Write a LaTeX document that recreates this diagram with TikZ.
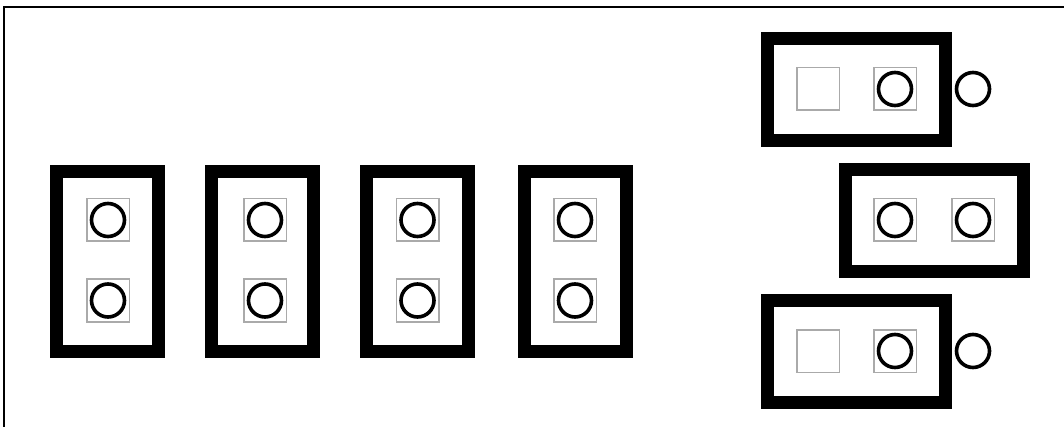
\documentclass[tikz,border=0pt]{standalone}
\begin{document}
\begin{tikzpicture}[x=1pt,y=-1pt,
  holder/.style={draw=black,line width=13pt,rectangle,inner sep=0pt,outer sep=0pt,fill=white},
  vholder/.style={holder,minimum width=102pt,minimum height=180pt},
  hholder/.style={holder,minimum width=178pt,minimum height=102pt},
  pad/.style={draw={rgb,255:red,170;green,170;blue,170},line width=1.5pt,rectangle,inner sep=0pt,outer sep=0pt,minimum size=42.5pt},
  pin/.style={draw=black,line width=3.6pt,circle,inner sep=0pt,outer sep=0pt,minimum size=33pt}]
\useasboundingbox (0,0) rectangle (1064,427);
\fill[white] (0,0) rectangle (1064,427);
\coordinate (fa) at (4.3,427);
\coordinate (fb) at (4.3,7.3);
\coordinate (fc) at (1064,7.3);
\draw[line width=2pt] (fa) -- (fb) -- (fc);
% left vertical holders
\foreach \i/\bx/\px in {1/107.5/108,2/262.5/265,3/417.5/417.5,4/575/575}{
  \node[vholder] (v\i) at (\bx,261.5) {};
  \node[pad] (v\i pa) at (\px,220) {};
  \node[pad] (v\i pb) at (\px,300.5) {};
  \node[pin] (v\i ca) at (\px,220) {};
  \node[pin] (v\i cb) at (\px,300.5) {};
}
% top right
\node[hholder] (h1) at (856.5,89.5) {};
\node[pad] (h1pa) at (818,89) {};
\node[pad] (h1pb) at (895,89) {};
\node[pin] (h1cb) at (895,89) {};
\node[pin] (h1out) at (973,89) {};
% middle right
\node[hholder] (h2) at (934,220.5) {};
\node[pad] (h2pa) at (895,220) {};
\node[pad] (h2pb) at (973,220) {};
\node[pin] (h2ca) at (895,220) {};
\node[pin] (h2cb) at (973,220) {};
% bottom right
\node[hholder] (h3) at (856.5,351) {};
\node[pad] (h3pa) at (818,351) {};
\node[pad] (h3pb) at (895,351) {};
\node[pin] (h3cb) at (895,351) {};
\node[pin] (h3out) at (973,351) {};
\end{tikzpicture}
\end{document}
